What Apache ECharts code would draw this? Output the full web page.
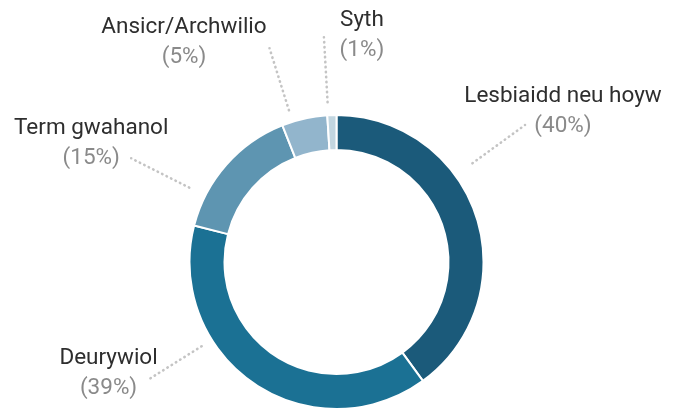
<!DOCTYPE html>
<html>
<head>
<meta charset="utf-8">
<script src="https://cdn.jsdelivr.net/npm/echarts@6/dist/echarts.min.js"></script>
<style>
  html, body { margin: 0; padding: 0; background: #fff; }
  #chart { width: 680px; height: 409px; }
</style>
</head>
<body>
<div id="chart"></div>
<script>
// data
const categories = ['Lesbiaidd neu hoyw', 'Deurywiol', 'Term gwahanol', 'Ansicr/Archwilio', 'Syth'];
const shares = [40, 39, 15, 5, 1];
const colours = ['#1b5a7a', '#1b7194', '#5e95b1', '#92b5cc', '#c2d6e0'];

// label placement (leader angle clockwise from 12 o'clock, inner/outer radius, label offset from leader end)
const leaders = [[54, 168, 233], [238, 159, 224], [296.8, 165, 230], [342.6, 159, 224], [356.8, 160, 225]];
const labelOffsets = [[38, -14], [-38, -7], [-40, -14.5], [-85.5, -6], [38, -2]];

const CX = 336.5, CY = 262;

const chart = echarts.init(document.getElementById('chart'));

chart.setOption({
    animation: false,
    series: [{
        type: 'pie',
        center: [CX, CY],
        radius: [112, 147],
        startAngle: 90,
        clockwise: true,
        avoidLabelOverlap: false,
        silent: true,
        data: categories.map((name, i) => ({
            name,
            value: shares[i],
            itemStyle: { color: colours[i] }
        })),
        itemStyle: { borderColor: '#fff', borderWidth: 2 },
        label: {
            show: true,
            position: 'outside',
            alignTo: 'none',
            formatter: '{n|{b}}\n{p|({c}%)}',
            rich: {
                n: { fontFamily: 'Roboto', fontSize: 22.5, color: '#2e2e2e', lineHeight: 30, align: 'center' },
                p: { fontFamily: 'Roboto', fontSize: 22.5, color: '#8a8a8a', lineHeight: 30, align: 'center' }
            }
        },
        labelLine: {
            show: true,
            length: 20,
            length2: 0,
            lineStyle: { color: '#c4c4c4', width: 2.6, type: [0.4, 4.6], cap: 'round' }
        },
        labelLayout: function (params) {
            const i = params.dataIndex;
            const a = leaders[i][0] * Math.PI / 180;
            const p0 = [CX + leaders[i][1] * Math.sin(a), CY - leaders[i][1] * Math.cos(a)];
            const p1 = [CX + leaders[i][2] * Math.sin(a), CY - leaders[i][2] * Math.cos(a)];
            return {
                x: p1[0] + labelOffsets[i][0],
                y: p1[1] + labelOffsets[i][1],
                align: 'center',
                verticalAlign: 'middle',
                labelLinePoints: [p0, p1]
            };
        }
    }]
});
</script>
</body>
</html>
